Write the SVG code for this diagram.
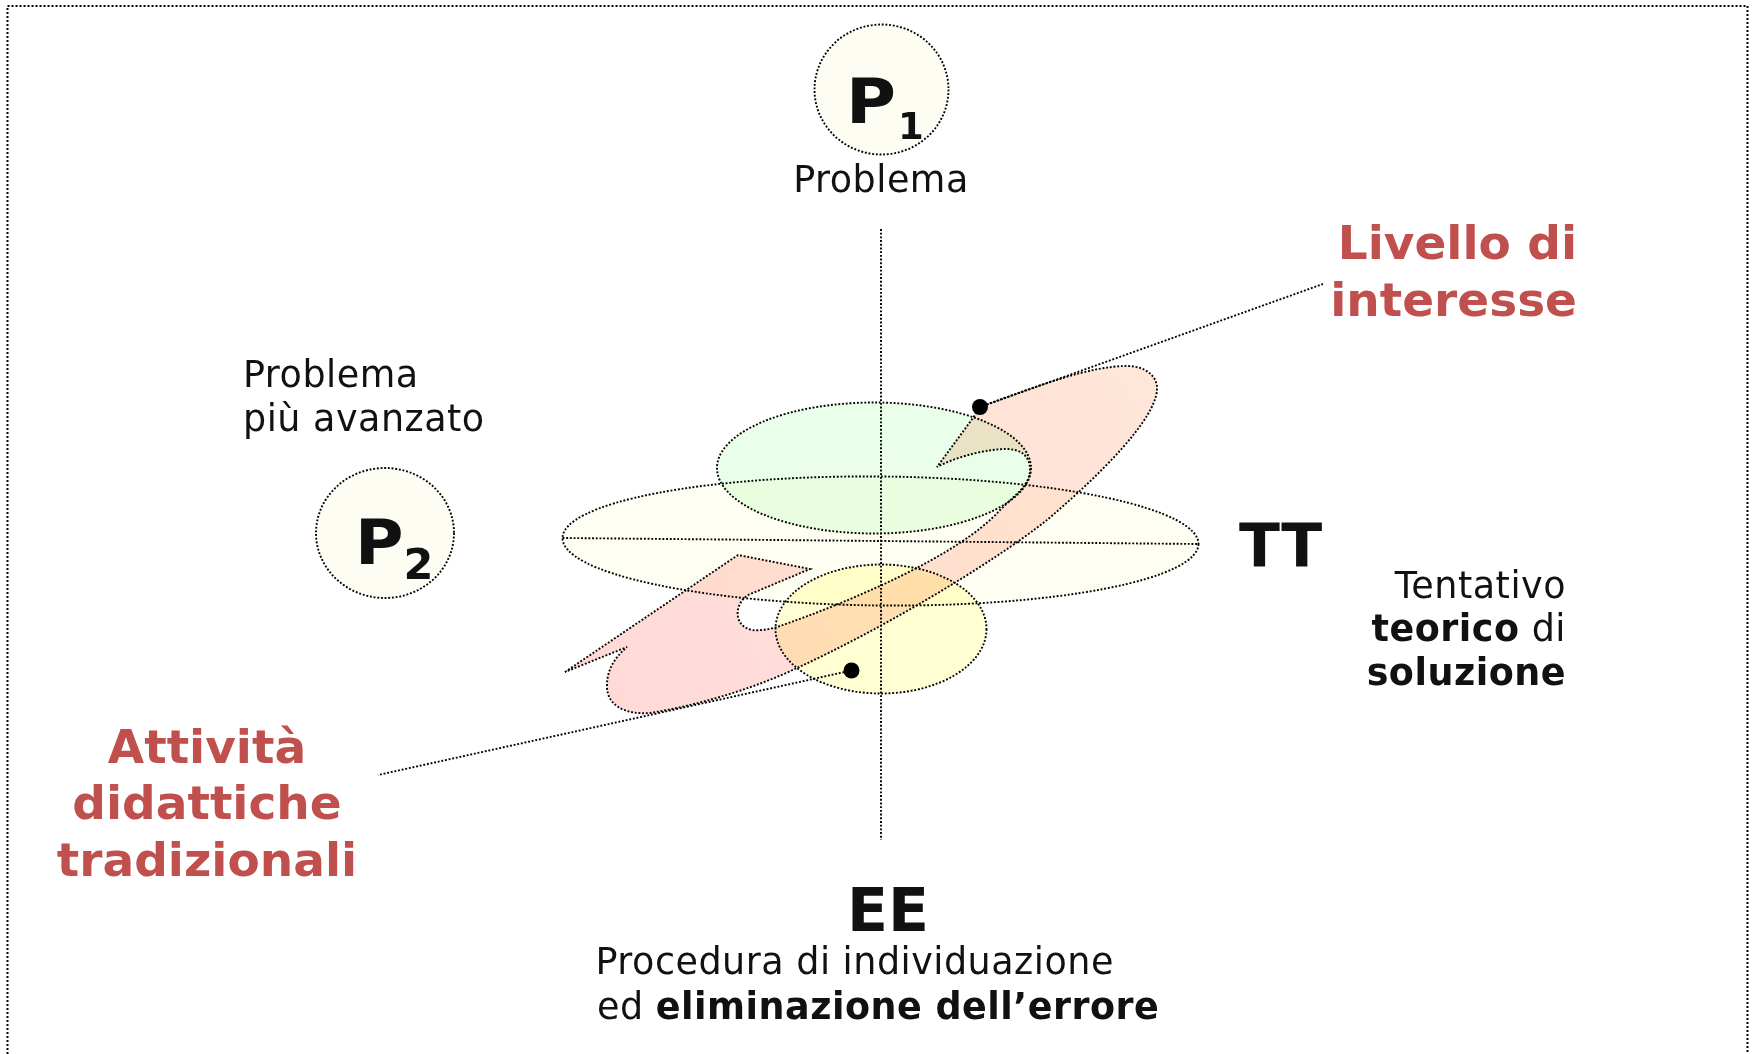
<svg xmlns="http://www.w3.org/2000/svg" width="1752" height="1054" viewBox="0 0 1752 1054">
<defs>
<linearGradient id="ribbonGrad" gradientUnits="userSpaceOnUse" x1="600" y1="700" x2="1150" y2="380">
<stop offset="0" stop-color="#FFD9D7"/>
<stop offset="1" stop-color="#FFE6D8"/>
</linearGradient>
</defs>
<style>
.dot{fill:none;stroke:#000;stroke-width:1.9;stroke-dasharray:1.9 1.8}
.blend{mix-blend-mode:multiply;stroke:#000;stroke-width:1.9;stroke-dasharray:1.9 1.8}
.node{fill:#FEFDF4;stroke:#000;stroke-width:1.9;stroke-dasharray:1.9 1.8}
.t{font-family:"DejaVu Sans","Verdana",sans-serif;fill:#111}
.reg{font-size:36.5px;letter-spacing:0.5px}
.big{font-size:60px;font-weight:bold}
.red{font-family:"DejaVu Sans","Verdana",sans-serif;font-size:47px;font-weight:bold;fill:#C0504D}
.b{font-weight:bold}
</style>
<rect x="0" y="0" width="1752" height="1054" fill="#fff"/>
<rect id="border" x="7.5" y="6" width="1740" height="1070" fill="none" stroke="#000" stroke-width="2" stroke-dasharray="2 2"/>

<g id="figure">
<ellipse class="blend" cx="880.5" cy="541" rx="318" ry="64.5" transform="rotate(0.54 880.5 541)" fill="#FFFEF3"/>
<ellipse class="blend" cx="874" cy="468" rx="157" ry="65.5" fill="#E9FFE9"/>
<ellipse class="blend" cx="881" cy="629" rx="105.5" ry="64.5" fill="#FFFFD3"/>
<path class="blend" fill="url(#ribbonGrad)" d="M565,672 L738,555 L810,569 L748,595 C734,604 733,626 752,630 C760,631 770,629 777,627 C850,602 960,555 1000,510 C1015,495 1030,485 1030,470 C1030,455 1020,449 1006,449 C990,449 960,455 937,467 L973,418 L980,407 C1040,385 1090,366 1127,366 C1145,366 1158,376 1157,390 C1155,420 1100,475 1047,520 C990,565 880,630 797,668 C755,688 700,705 650,713 C625,715 606,705 607,685 C607,670 615,657 627,647 Z"/>
<line class="dot" x1="562.5" y1="538" x2="1198.5" y2="544"/>
</g>

<g id="connectors">
<line class="dot" x1="881" y1="229" x2="881" y2="840"/>
<line class="dot" x1="980" y1="407" x2="1323" y2="284"/>
<line class="dot" x1="851.5" y1="670.5" x2="378" y2="775"/>
<circle cx="980" cy="407" r="8" fill="#000"/>
<circle cx="851.5" cy="670.5" r="8" fill="#000"/>
</g>

<g id="node-p1">
<ellipse class="node" cx="881.5" cy="89.5" rx="67" ry="65"/>
<text class="t" x="846" y="123" font-size="62" font-weight="bold" textLength="50" lengthAdjust="spacingAndGlyphs">P</text>
<text class="t" x="898" y="138.5" font-size="37" font-weight="bold">1</text>
<text class="t reg" x="881" y="192" text-anchor="middle">Problema</text>
</g>

<g id="node-p2">
<ellipse class="node" cx="385" cy="533" rx="69" ry="65"/>
<text class="t" x="355" y="564" font-size="62" font-weight="bold" textLength="48.5" lengthAdjust="spacingAndGlyphs">P</text>
<text class="t" x="403.5" y="579" font-size="43" font-weight="bold">2</text>
<text class="t reg" x="243" y="387">Problema</text>
<text class="t reg" x="243" y="431">più avanzato</text>
</g>

<g id="node-tt">
<text class="t big" x="1239" y="567">TT</text>
<text class="t reg" x="1566" y="598" text-anchor="end">Tentativo</text>
<text class="t reg" x="1566" y="641" text-anchor="end"><tspan class="b">teorico</tspan> di</text>
<text class="t reg b" x="1566" y="685" text-anchor="end">soluzione</text>
</g>

<g id="node-ee">
<text class="t big" x="888" y="931" text-anchor="middle" font-size="62">EE</text>
<text class="t reg" x="595.5" y="974">Procedura di individuazione</text>
<text class="t reg" x="597" y="1019">ed <tspan class="b">eliminazione dell’errore</tspan></text>
</g>

<g id="label-livello">
<text class="red" x="1577" y="259" text-anchor="end">Livello di</text>
<text class="red" x="1577" y="316" text-anchor="end">interesse</text>
</g>

<g id="label-attivita">
<text class="red" x="207" y="763" text-anchor="middle">Attività</text>
<text class="red" x="207" y="819" text-anchor="middle">didattiche</text>
<text class="red" x="207" y="876" text-anchor="middle">tradizionali</text>
</g>
</svg>
